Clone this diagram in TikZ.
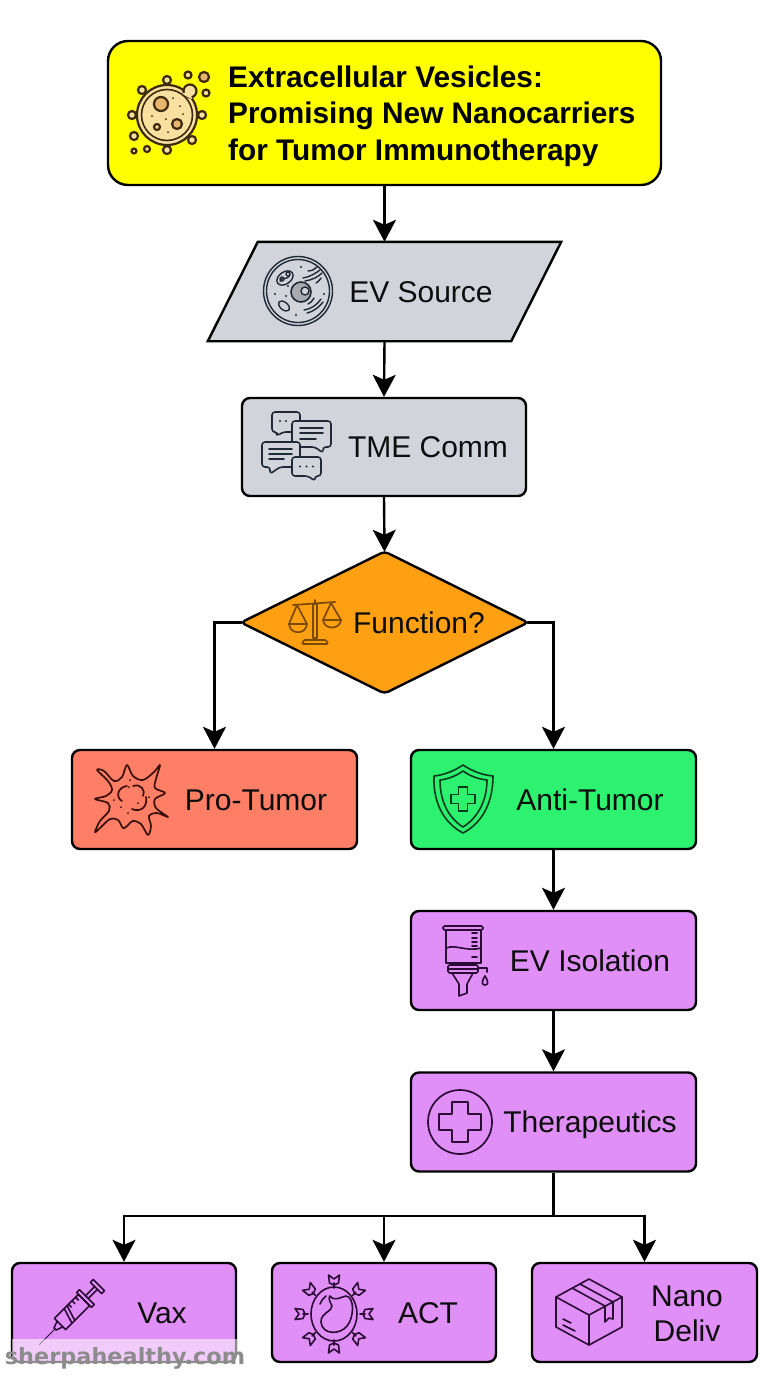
\documentclass[tikz,border=0pt]{standalone}
\usepackage{fontspec}
\setmainfont{Liberation Sans}
\newfontfamily\wmfont{DejaVu Sans}
\usetikzlibrary{arrows.meta,shapes.geometric,calc}
\definecolor{ttlyellow}{HTML}{FFFF00}
\definecolor{grayfill}{HTML}{D1D5DB}
\definecolor{orangefill}{HTML}{FFA012}
\definecolor{redfill}{HTML}{FF7F66}
\definecolor{greenfill}{HTML}{2CF270}
\definecolor{purplefill}{HTML}{E08FF7}
\definecolor{ves}{HTML}{F8E0A0}
\definecolor{vesd}{HTML}{E8B66E}
\definecolor{vesl}{HTML}{3D2A0C}
\definecolor{inkgray}{HTML}{1F2937}
\definecolor{inkor}{HTML}{7A4A05}
\definecolor{inkred}{HTML}{3A0F08}
\definecolor{inkgr}{HTML}{063A1C}
\definecolor{inkpu}{HTML}{2B0A36}
\definecolor{wm}{HTML}{8C8C8C}
\tikzset{
  x=1pt,y=-1pt,
  flowbox/.style={draw=black,line width=2.4pt,rounded corners=8pt,inner sep=0pt},
  stdbox/.style={flowbox,minimum width=285pt,minimum height=99pt},
  smallbox/.style={flowbox,fill=purplefill,minimum width=224pt,minimum height=99pt},
  lbl/.style={font=\fontsize{30}{36}\selectfont,text=black!95,inner sep=0pt},
  ttl/.style={font=\bfseries\fontsize{29.8}{36.5}\selectfont,text=black,inner sep=0pt,align=left,anchor=west},
  conn/.style={draw=black,line width=2.4pt,-{Stealth[length=22pt,width=23pt,inset=5pt]}},
  icon/.style={line width=1.5pt,line join=round,line cap=round},
}
\begin{document}
\begin{tikzpicture}
\useasboundingbox (0,0) rectangle (768,1376);
% ---- nodes
\node[flowbox,rounded corners=20pt,fill=ttlyellow,minimum width=553pt,minimum height=144pt] (title) at (384.5,113) {};
\node[inner sep=0pt,minimum width=353pt,minimum height=99pt] (src) at (384.5,291.5) {};
\draw[line width=2.4pt,fill=grayfill,line join=miter] ($(src.north west)+(50,0)$) -- (src.north east) -- ($(src.south east)+(-50,0)$) -- (src.south west) -- cycle;
\node[flowbox,fill=grayfill,minimum width=284pt,minimum height=98pt] (tme) at (384,447) {};
\node[draw=black,line width=2.4pt,fill=orangefill,diamond,rounded corners=4pt,inner sep=0pt,minimum width=288pt,minimum height=143pt] (fn) at (384.5,622.5) {};
\node[stdbox,fill=redfill] (pro) at (214.5,799.5) {};
\node[stdbox,fill=greenfill] (anti) at (553.5,799.5) {};
\node[stdbox,fill=purplefill] (iso) at (553.5,960.5) {};
\node[stdbox,fill=purplefill] (ther) at (553.5,1122) {};
\node[smallbox] (vax) at (124,1312.5) {};
\node[smallbox] (act) at (384,1312.5) {};
\node[smallbox,minimum width=225pt] (nano) at (644.5,1312.5) {};
% ---- text
\node[ttl] (t1) at (228,116) {Extracellular Vesicles:\\Promising New Nanocarriers\\for Tumor Immunotherapy};
\node[lbl] (l1) at (421,292) {EV Source};
\node[lbl] (l2) at (428,447) {TME Comm};
\node[lbl] (l3) at (419,623) {Function?};
\node[lbl] (l4) at (256,800) {Pro-Tumor};
\node[lbl] (l5) at (590,800) {Anti-Tumor};
\node[lbl] (l6) at (590,961) {EV Isolation};
\node[lbl] (l7) at (590,1125) {Therapeutics};
\node[lbl] (l8) at (162,1313) {Vax};
\node[lbl] (l9) at (428,1313) {ACT};
\node[lbl,align=center,font=\fontsize{30}{35}\selectfont] (l10) at (687,1314) {Nano\\Deliv};
% ---- connectors
\coordinate (bus) at (553.5,1216);
\draw[conn] (title.south) -- (src.north);
\draw[conn] (src.south) -- (tme.north);
\draw[conn,shorten >=-2pt] (tme.south) -- (fn.north);
\draw[conn] ($(fn.west)+(3,0)$) -| (pro.north);
\draw[conn] ($(fn.east)+(-3,0)$) -| (anti.north);
\draw[conn] (anti.south) -- (iso.north);
\draw[conn] (iso.south) -- (ther.north);
\draw[line width=2.4pt] (ther.south) -- (bus);
\draw[conn] (bus) -| (vax.north);
\draw[conn] (bus) -| (act.north);
\draw[conn] (bus) -| (nano.north);
% ---- icon: vesicle
\begin{scope}[icon,draw=vesl,line width=2.2pt]
  \draw[fill=ves] (167,115) circle[radius=30];
  \draw[fill=ves] (190,91) circle[radius=6.5];
  \fill[ves] (181,94) -- (192,99) -- (190,91) -- cycle;
  \draw[line width=1.6pt] (167,115) circle[radius=25.5];
  \foreach \p/\r in {(167,80)/4,(142,90)/4,(132,115)/4,(134,136)/4,(134,151)/2.5,(147,149)/3,(167,150)/4,(192,140)/4,(202,115)/4,(206,93)/3.5,(188,75)/3.5}
    \draw[fill=ves] \p circle[radius=\r];
  \draw[fill=vesd] (204,77) circle[radius=5];
  \draw[fill=vesd] (161,104) circle[radius=7];
  \draw[fill=vesd] (177,124) circle[radius=5];
  \draw[fill=ves] (157,127) circle[radius=3];
  \foreach \p in {(173,98),(180,106),(183,114),(152,116),(166,119),(168,132)}
    \fill[vesl] \p circle[radius=1];
\end{scope}
% ---- icon: cell
\begin{scope}[icon,draw=inkgray,line width=1.4pt]
  \draw (298,291) circle[radius=34.5];
  \draw (298,291) circle[radius=31.5];
  \draw[fill=black!20!grayfill,line width=1.6pt] (301,292) circle[radius=10];
  \draw[fill=grayfill] (305,291) circle[radius=4];
  \draw[rotate around={35:(285,278)}] (285,278) ellipse[x radius=9,y radius=6];
  \draw[rotate around={35:(285,278)}] (279,278) .. controls (282,274) and (285,282) .. (291,278);
  \draw (282,279) circle[radius=2] (288,274) circle[radius=2];
  \draw[rotate around={-40:(284,306)}] (284,306) ellipse[x radius=6.5,y radius=3.8];
  \draw (303,278) .. controls (310,277) and (316,273) .. (320,270);
  \draw (305,281) .. controls (312,280) and (318,277) .. (322,273);
  \draw (308,271) .. controls (312,271) and (315,269) .. (317,267);
  \draw (316,283) .. controls (318,282) and (320,280) .. (321,278);
  \draw (304,310) .. controls (311,309) and (317,305) .. (321,299);
  \draw (307,313) .. controls (315,311) and (320,306) .. (323,302);
  \draw (314,298) .. controls (313,301) and (310,303) .. (308,304);
  \foreach \p in {(301,267),(275,294),(286,296),(296,315),(324,294),(288,286)}
    \fill[inkgray] \p circle[radius=1.2];
\end{scope}
% ---- icon: chat bubbles
\begin{scope}[icon,draw=inkgray,line width=1.6pt]
  \draw[rounded corners=3pt,fill=grayfill] (272,412) -- (300,412) -- (300,432) -- (283,432) -- (277,436) -- (277,432) -- (272,432) -- cycle;
  \fill[inkgray] (280,421) circle[radius=1.1] (286,421) circle[radius=1.1];
  \draw[rounded corners=3pt,fill=grayfill] (292,421) -- (331,421) -- (331,447) -- (323,447) -- (323,453) -- (315,447) -- (292,447) -- cycle;
  \draw (300,428) -- (323,428) (300,433) -- (323,433) (300,439) -- (316,439);
  \draw[rounded corners=3pt,fill=grayfill] (262,442) -- (300,442) -- (300,467) -- (280,467) -- (270,474) -- (270,467) -- (262,467) -- cycle;
  \draw (269,449) -- (292,449) (269,454) -- (292,454) (269,459) -- (284,459);
  \draw[rounded corners=3pt,fill=grayfill] (292,457) -- (321,457) -- (321,476) -- (315,476) -- (315,481) -- (308,476) -- (292,476) -- cycle;
  \fill[inkgray] (300,466.5) circle[radius=1.1] (306.5,466.5) circle[radius=1.1] (313,466.5) circle[radius=1.1];
\end{scope}
% ---- icon: scales
\begin{scope}[icon,draw=inkor,line width=1.7pt]
  \draw (313,604) rectangle (317,638);
  \draw (315,604) -- (315,600);
  \draw[rounded corners=1pt] (302,644) -- (304,640) -- (326,640) -- (328,644) -- cycle;
  \draw (293,605) -- (335,602);
  \draw (297,605) -- (289,624) (297,605) -- (307,624);
  \draw (289,624) -- (307,624) .. controls (306,635) and (290,635) .. (289,624) -- cycle;
  \draw (331,603) -- (323,620) (331,603) -- (341,620);
  \draw (323,620) -- (341,620) .. controls (340,630) and (324,630) .. (323,620) -- cycle;
\end{scope}
% ---- icon: pro-tumor cell
\begin{scope}[icon,draw=inkred,line width=1.7pt]
  \draw plot[smooth cycle,tension=0.55] coordinates {
    (97,770) (104,771) (114,781) (122,777) (127,765) (133,776) (143,780) (154,772) (160,765)
    (156,779) (155,788) (165,793) (155,799) (156,808) (168,817) (157,813) (149,816) (151,826) (148,835)
    (141,824) (133,821) (127,826) (123,828) (118,820) (110,819) (100,828) (95,832)
    (100,821) (109,811) (108,803) (95,799) (106,796) (112,790) (108,781)};
  \draw (122,801) .. controls (115,797) and (118,787) .. (127,786);
  \draw (133,786) .. controls (141,783) and (146,791) .. (143,796);
  \draw (146,797) .. controls (148,806) and (141,813) .. (132,809);
  \foreach \p in {(114,800),(121,807),(128,813),(138,803),(129,787),(149,797),(130,780)}
    \fill[inkred] \p circle[radius=1];
\end{scope}
% ---- icon: shield
\begin{scope}[icon,draw=inkgr,line width=1.6pt]
  \draw (463,765) .. controls (454,771) and (444,775) .. (434,776) .. controls (433,800) and (442,822) .. (463,833) .. controls (484,822) and (493,800) .. (493,776) .. controls (482,775) and (472,771) .. (463,765) -- cycle;
  \draw (463,771) .. controls (456,776) and (448,779) .. (440,780) .. controls (440,799) and (447,817) .. (463,827) .. controls (479,817) and (487,799) .. (487,780) .. controls (478,779) and (470,776) .. (463,771) -- cycle;
  \draw (458.5,787) -- (467.5,787) -- (467.5,794.5) -- (475,794.5) -- (475,803.5) -- (467.5,803.5) -- (467.5,811) -- (458.5,811) -- (458.5,803.5) -- (451,803.5) -- (451,794.5) -- (458.5,794.5) -- cycle;
\end{scope}
% ---- icon: filter
\begin{scope}[icon,draw=inkpu,line width=1.6pt]
  \draw[rounded corners=1.5pt] (443,926) rectangle (483,930);
  \draw (446,930) -- (446,963) -- (481,963) -- (481,930);
  \draw (446,948) .. controls (456,944) and (466,952) .. (481,948);
  \draw (472,938) -- (477,938) (472,942) -- (477,942) (472,946) -- (477,946) (472,957) -- (477,957) (472,933) -- (477,933);
  \draw[rounded corners=1.5pt] (448,965) rectangle (478,973);
  \draw (449,969) -- (477,969);
  \draw (452,973) -- (459,984) -- (459,996) -- (467,993) -- (467,984) -- (473,973);
  \draw (478,968) -- (487,968) -- (487,972);
  \draw (485,976) .. controls (481,982) and (482,985) .. (485,985) .. controls (488,985) and (489,982) .. (485,976) -- cycle;
\end{scope}
% ---- icon: therapeutics plus
\begin{scope}[icon,draw=inkpu,line width=1.7pt]
  \draw (460,1122) circle[radius=32];
  \draw (452,1102) -- (468,1102) -- (468,1114) -- (481,1114) -- (481,1130) -- (468,1130) -- (468,1142) -- (452,1142) -- (452,1130) -- (439,1130) -- (439,1114) -- (452,1114) -- cycle;
\end{scope}
% ---- icon: syringe
\begin{scope}[icon,draw=inkpu,line width=1.6pt,shift={(72,1312)},rotate=45]
  \draw (-17,-8) rectangle (17,8);
  \draw (-3,-8) -- (-8,8) (1,-8) -- (-4,8);
  \draw (17,-10.5) rectangle (21,10.5);
  \draw (21,-2) -- (34,-2) (21,2) -- (34,2);
  \draw (34,-8) rectangle (38,8);
  \draw (-17,-4) -- (-24,-1.5) -- (-24,1.5) -- (-17,4);
  \draw[line width=0.9pt] (-24,0) -- (-46,0);
  \draw (3,-8) -- (3,-4) (8,-8) -- (8,-4) (13,-8) -- (13,-4);
\end{scope}
% ---- icon: T cell
\begin{scope}[icon,draw=inkpu,line width=1.6pt]
  \draw (334,1314) ellipse[x radius=23,y radius=27];
  \draw (330,1296) .. controls (335,1302) and (340,1297) .. (346,1296) .. controls (355,1297) and (354,1318) .. (347,1326) .. controls (340,1335) and (322,1335) .. (321,1322) .. controls (321,1312) and (332,1312) .. (332,1306) .. controls (330,1302) and (328,1298) .. (330,1296) -- cycle;
  \draw (326,1296) .. controls (323,1298) and (321,1301) .. (320,1304);
  \foreach \a in {0,45,90,135,180,225,270,315}{
    \begin{scope}[shift={(334,1314)},rotate=\a]
      \draw (26,0) -- (31,0);
      \draw (29,0) -- (31,-4.5) -- (39,-5.5) -- (35,0) -- (39,5.5) -- (31,4.5) -- (29,0);
    \end{scope}}
\end{scope}
% ---- icon: box
\begin{scope}[icon,draw=inkpu,line width=1.6pt]
  \draw (589,1279) -- (622,1297) -- (622,1327) -- (589,1345) -- (556,1327) -- (556,1297) -- cycle;
  \draw (556,1297) -- (589,1315) -- (622,1297) (589,1315) -- (589,1345);
  \draw (572,1288) -- (605,1306) (580,1284) -- (613,1302);
  \draw (605,1306) -- (605,1322) -- (609,1318) -- (613,1319) -- (613,1302);
  \draw (563,1319) -- (571,1323) (563,1325) -- (575,1331);
\end{scope}
% ---- watermark
\fill[white,opacity=0.55] (12,1339) rectangle (237,1371);
\node[font=\wmfont\bfseries\fontsize{22.4}{26}\selectfont,text=wm,inner sep=0pt] (wmark) at (125,1358) {sherpahealthy.com};
\end{tikzpicture}
\end{document}
